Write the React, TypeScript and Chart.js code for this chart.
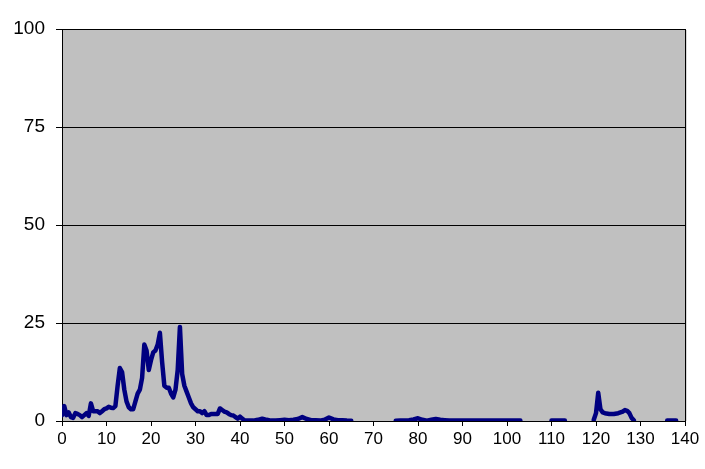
import React, { useEffect, useRef } from "react";
import { Chart, registerables } from "chart.js";

Chart.register(...registerables);

// x positions of the samples (null values in yValues break the line)
const xValues: number[] = [
  0, 0.5, 1, 1.5, 2, 2.5, 3, 3.5, 4, 4.5, 5, 5.5, 6, 6.5, 7, 7.5, 8, 8.5, 9, 9.5,
  10, 10.5, 11, 11.5, 12, 12.5, 13, 13.5, 14, 14.5, 15, 15.5, 16, 16.5, 17, 17.5, 18, 18.5, 19, 19.5,
  20, 20.5, 21, 21.5, 22, 22.5, 23, 23.5, 24, 24.5, 25, 25.5, 26, 26.5, 27, 27.5, 28, 28.5, 29, 29.5,
  30, 30.5, 31, 31.5, 32, 32.5, 33, 33.5, 34, 34.5, 35, 35.5, 36, 36.5, 37, 37.5, 38, 38.5, 39, 39.5,
  40, 40.5, 41, 42, 43, 44, 45, 46, 47, 48, 49, 50, 51, 52, 53, 54, 55, 56, 57, 58, 59,
  60, 61, 62, 63, 64, 65, 70,
  75, 76, 77, 78, 79, 80, 81, 82, 83, 84, 85, 86, 87, 88, 89, 90, 91, 92, 93, 94, 95, 96, 97, 98, 99,
  100, 101, 102, 103, 106,
  110, 111, 112, 113, 116,
  119.5, 120, 120.5, 121, 121.5, 122, 123, 124, 125, 126, 126.5, 127, 127.5, 128, 128.5, 132,
  136, 137, 138,
];

const yValues: (number | null)[] = [
  1.5, 3.8, 1.5, 2.2, 1, 0.8, 2, 1.8, 1.5, 1, 1.5, 2, 1.3, 4.5, 2.5, 2.5, 2.5, 2, 2.5, 3,
  3.2, 3.6, 3.4, 3.3, 3.8, 9, 13.5, 12.5, 8, 5, 3.5, 3, 3, 5, 7, 8, 11, 19.5, 18, 13,
  15.5, 17.5, 18, 19.5, 22.5, 15, 9, 8.5, 8.5, 7, 6, 8, 13, 24, 12, 9, 7.5, 6, 4.5, 3.5,
  3, 2.5, 2.5, 2, 2.5, 1.5, 1.5, 1.8, 1.8, 1.8, 1.8, 3.2, 2.8, 2.4, 2.2, 1.8, 1.5, 1.4, 1, 0.6,
  1.1, 0.6, 0.2, 0.1, 0.1, 0.3, 0.6, 0.3, 0.1, 0.1, 0.2, 0.3, 0.2, 0.3, 0.5, 1, 0.5, 0.2, 0.2, 0.1, 0.3,
  0.9, 0.4, 0.2, 0.2, 0.1, 0.05, null,
  0.05, 0.1, 0.1, 0.2, 0.4, 0.7, 0.3, 0.1, 0.3, 0.5, 0.3, 0.2, 0.1, 0.1, 0.1, 0.1, 0.1, 0.1, 0.1, 0.1, 0.1, 0.1, 0.1, 0.1, 0.1,
  0.1, 0.1, 0.1, 0.1, null,
  0.1, 0.1, 0.1, 0.1, null,
  0.3, 2, 7.2, 3, 2.2, 2, 1.8, 1.8, 2, 2.4, 2.8, 2.6, 2, 0.8, 0.2, null,
  0.1, 0.1, 0.1,
];

const yTicks: number[] = [0, 25, 50, 75, 100];
const xMin = 0;
const xMax = 140;
const xStep = 10;

const FONT = "'Liberation Sans', Arial, sans-serif";

export default function App() {
  const canvasRef = useRef<HTMLCanvasElement | null>(null);

  useEffect(() => {
    const canvas = canvasRef.current;
    if (!canvas) return;

    const points = xValues.map((x, i) => ({ x, y: yValues[i] }));

    const plotFrame = {
      id: "plotFrame",
      beforeDraw(chart: any) {
        const { ctx, chartArea } = chart;
        ctx.save();
        ctx.fillStyle = "#c0c0c0";
        ctx.fillRect(chartArea.left, chartArea.top, chartArea.right - chartArea.left, chartArea.bottom - chartArea.top);
        ctx.restore();
      },
      afterDraw(chart: any) {
        const { ctx, chartArea } = chart;
        ctx.save();
        ctx.strokeStyle = "#000000";
        ctx.lineWidth = 1;
        ctx.beginPath();
        ctx.moveTo(Math.round(chartArea.right) + 0.5, chartArea.top);
        ctx.lineTo(Math.round(chartArea.right) + 0.5, chartArea.bottom);
        ctx.stroke();
        ctx.strokeStyle = "#d8d8d8";
        ctx.beginPath();
        ctx.moveTo(Math.round(chartArea.right) + 1.5, chartArea.top + 1);
        ctx.lineTo(Math.round(chartArea.right) + 1.5, chartArea.bottom);
        ctx.stroke();
        ctx.restore();
      },
    };

    const chart = new Chart(canvas, {
      type: "line",
      data: {
        datasets: [
          {
            data: points as any,
            borderColor: "#000080",
            borderWidth: 4.5,
            pointRadius: 0,
            tension: 0,
            spanGaps: false,
            fill: false,
            borderJoinStyle: "round",
            borderCapStyle: "round",
          },
        ],
      },
      options: {
        animation: false,
        responsive: false,
        maintainAspectRatio: false,
        layout: { padding: { top: 29, right: 20, left: 0, bottom: 0 } },
        plugins: {
          legend: { display: false },
          tooltip: { enabled: false },
        },
        scales: {
          x: {
            type: "linear",
            min: xMin,
            max: xMax,
            ticks: {
              stepSize: xStep,
              color: "#000000",
              padding: 3,
              maxRotation: 0,
              font: { family: FONT, size: 17 },
            },
            grid: {
              drawOnChartArea: false,
              drawTicks: true,
              tickLength: 5,
              color: "#000000",
            },
            border: { display: true, color: "#000000", width: 1 },
            afterFit(scale: any) {
              scale.height = 48;
            },
          },
          y: {
            min: 0,
            max: 100,
            afterBuildTicks(scale: any) {
              scale.ticks = yTicks.map((v) => ({ value: v }));
            },
            ticks: {
              color: "#000000",
              padding: 11,
              font: { family: FONT, size: 19 },
            },
            grid: {
              drawOnChartArea: true,
              drawTicks: true,
              tickLength: 6,
              color: "#000000",
              lineWidth: 1,
            },
            border: { display: true, color: "#000000", width: 1 },
            afterFit(scale: any) {
              scale.width = 62;
            },
          },
        },
      },
      plugins: [plotFrame],
    });

    return () => {
      chart.destroy();
    };
  }, []);

  return (
    <div style={{ position: "fixed", left: 0, top: 0, width: 705, height: 469, background: "#ffffff" }}>
      <canvas ref={canvasRef} width={705} height={469} style={{ display: "block" }} />
    </div>
  );
}
